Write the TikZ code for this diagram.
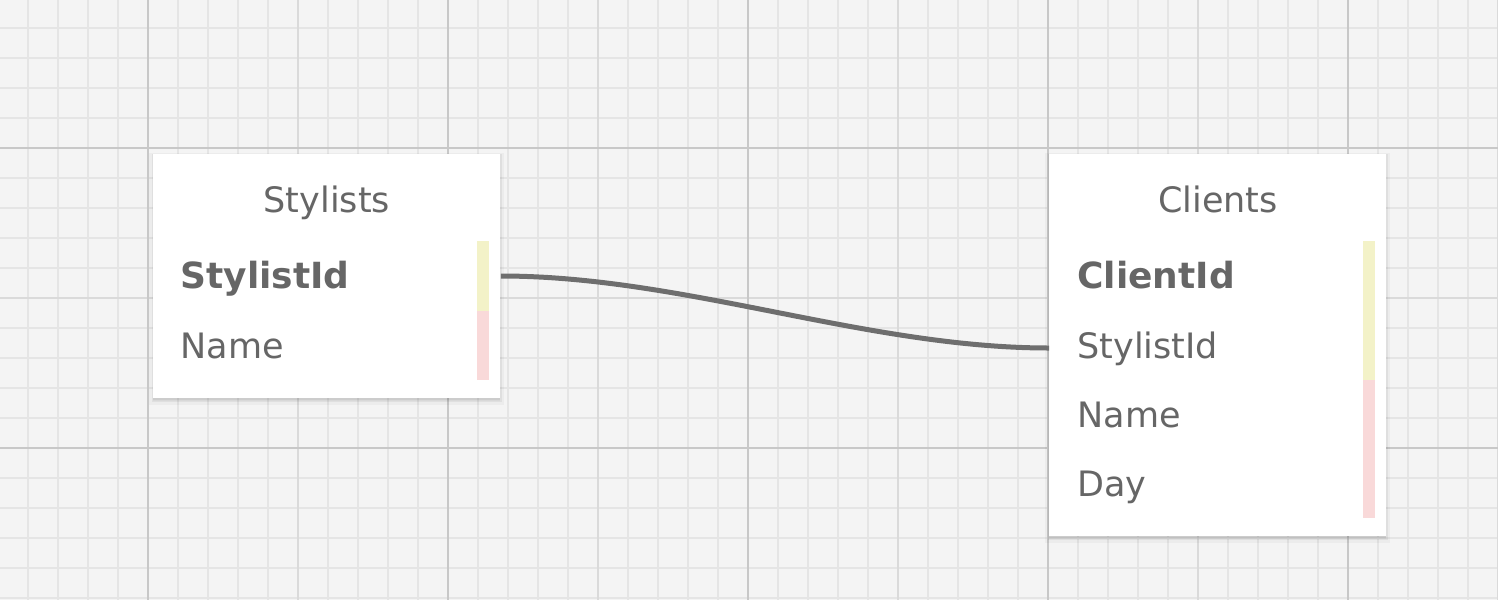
\documentclass[tikz,border=0pt]{standalone}
\usepackage{fontspec}
\setmainfont{DejaVu Sans}
\usetikzlibrary{calc, positioning}

\definecolor{paper}{HTML}{F4F4F4}
\definecolor{gridminor}{HTML}{E5E5E5}
\definecolor{gridmid}{HTML}{DADADA}
\definecolor{gridmajor}{HTML}{C8C8C8}
\definecolor{ink}{HTML}{666666}
\definecolor{linkgray}{HTML}{6E6E6E}
\definecolor{keybar}{HTML}{F3F2C8}
\definecolor{plainbar}{HTML}{F9D9D9}

\begin{document}
\begin{tikzpicture}[x=0.5pt, y=-0.5pt,
    tablebox/.style={fill=white, draw=none, anchor=north west, inner sep=0pt,
        preaction={fill=black, fill opacity=0.03, draw=black, draw opacity=0.03, line width=4pt, transform canvas={yshift=-1.2pt}},
        preaction={fill=black, fill opacity=0.05, draw=black, draw opacity=0.05, line width=1.6pt, transform canvas={yshift=-0.8pt}}},
    tabletitle/.style={anchor=base, inner sep=0pt, text=ink, font=\fontsize{17.5pt}{20pt}\selectfont},
    field/.style={anchor=base west, inner sep=0pt, text=ink, font=\fontsize{17.5pt}{20pt}\selectfont},
    keyfield/.style={field, font=\fontsize{18pt}{20pt}\selectfont\bfseries},
    link/.style={draw=linkgray, line width=2.5pt}
]
    \useasboundingbox (0,0) rectangle (1498,600);

    % paper with grid
    \fill[paper] (0,0) rectangle (1498,600);
    \foreach \x in {28,58,...,1498}
        \draw[gridminor, line width=1pt] (\x,0) -- (\x,600);
    \foreach \y in {28,58,...,598}
        \draw[gridminor, line width=1pt] (0,\y) -- (1498,\y);
    \foreach \x in {298,598,...,1498}
        \draw[gridmid, line width=1.2pt] (\x,0) -- (\x,600);
    \draw[gridmid, line width=1.2pt] (0,298) -- (1498,298);
    \foreach \x in {148,448,...,1498}
        \draw[gridmajor, line width=1.4pt] (\x,0) -- (\x,600);
    \foreach \y in {148,448}
        \draw[gridmajor, line width=1.4pt] (0,\y) -- (1498,\y);

    % Stylists table
    \node[tablebox, minimum width=173.5pt, minimum height=122pt] (stylists) at (153,154) {};
    \node[tabletitle] (s-title) at ($(stylists.north)+(0,58)$) {Stylists};
    \node[keyfield] (s-id) at ($(stylists.north west)+(27,134)$) {StylistId};
    \node[field] (s-name) at ($(s-id.base west)+(0,70)$) {Name};
    \fill[keybar] ($(stylists.north east)+(-24,87)$) rectangle ++(12,70);
    \fill[plainbar] ($(stylists.north east)+(-24,157)$) rectangle ++(12,69);

    % Clients table
    \node[tablebox, minimum width=168.5pt, minimum height=191pt] (clients) at (1049,154) {};
    \node[tabletitle] (c-title) at ($(clients.north)+(0,58)$) {Clients};
    \node[keyfield] (c-id) at ($(clients.north west)+(28,134)$) {ClientId};
    \node[field] (c-sid) at ($(c-id.base west)+(0,70)$) {StylistId};
    \node[field] (c-name) at ($(c-sid.base west)+(0,69)$) {Name};
    \node[field] (c-day) at ($(c-name.base west)+(0,69)$) {Day};
    \fill[keybar] ($(clients.north east)+(-24,87)$) rectangle ++(12,139);
    \fill[plainbar] ($(clients.north east)+(-24,226)$) rectangle ++(12,138);

    % relation StylistId -> Clients.StylistId
    \coordinate (s-id-out) at ($(stylists.east |- s-id.base)+(0,-12)$);
    \coordinate (c-sid-in) at ($(clients.west |- c-sid.base)+(0,-10)$);
    \draw[link] (s-id-out) .. controls +(183,0) and +(-183,0) .. (c-sid-in);
\end{tikzpicture}
\end{document}
